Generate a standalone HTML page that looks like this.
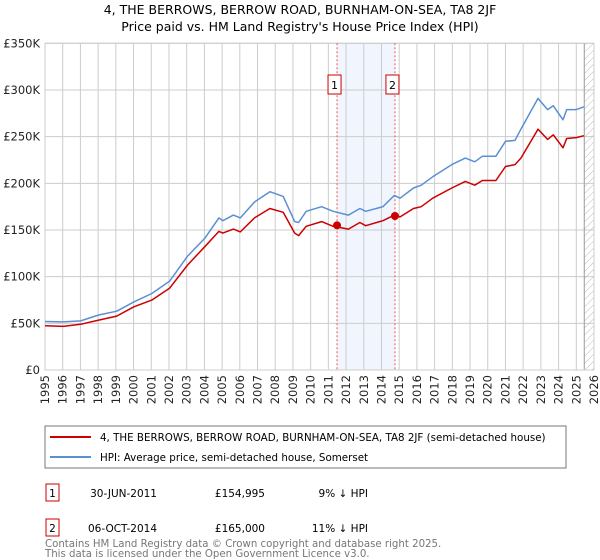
<!DOCTYPE html>
<html><head><meta charset="utf-8">
<style>
body{margin:0;background:#fff;font-family:"Liberation Sans","DejaVu Sans",sans-serif;}
svg{display:block}
</style></head>
<body>
<svg id="chart" width="600" height="560" viewBox="0 0 600 560" xmlns="http://www.w3.org/2000/svg" font-family="DejaVu Sans, Liberation Sans, sans-serif">
<text x="300" y="14" text-anchor="middle" font-size="12.5" fill="#000">4, THE BERROWS, BERROW ROAD, BURNHAM-ON-SEA, TA8 2JF</text>
<text x="300" y="31" text-anchor="middle" font-size="12.5" fill="#000">Price paid vs. HM Land Registry's House Price Index (HPI)</text>
<defs><pattern id="hatch" width="5" height="5" patternUnits="userSpaceOnUse" patternTransform="rotate(45)"><line x1="0" y1="0" x2="0" y2="5" stroke="#bbb" stroke-width="1"/></pattern></defs>
<g id="grid"></g>
<g id="marks"></g>
<g id="axes"></g>
<rect x="45" y="426" width="521" height="42" fill="#fff" stroke="#777"/>
<line x1="50" y1="437" x2="91" y2="437" stroke="#cc0000" stroke-width="2"/>
<text x="100" y="441" font-size="10.3">4, THE BERROWS, BERROW ROAD, BURNHAM-ON-SEA, TA8 2JF (semi-detached house)</text>
<line x1="50" y1="457" x2="91" y2="457" stroke="#5b8fd4" stroke-width="2"/>
<text x="100" y="461" font-size="10.3">HPI: Average price, semi-detached house, Somerset</text>
<g>
<rect x="46" y="484" width="13" height="17" fill="none" stroke="#cc0000"/><text x="52.5" y="497" text-anchor="middle" font-size="10.5">1</text>
<text x="157" y="497" text-anchor="end" font-size="10.5">30-JUN-2011</text>
<text x="265" y="497" text-anchor="end" font-size="10.5">£154,995</text>
<text x="368" y="497" text-anchor="end" font-size="10.5">9% ↓ HPI</text></g>
<g>
<rect x="46" y="519" width="13" height="17" fill="none" stroke="#cc0000"/><text x="52.5" y="532" text-anchor="middle" font-size="10.5">2</text>
<text x="157" y="532" text-anchor="end" font-size="10.5">06-OCT-2014</text>
<text x="265" y="532" text-anchor="end" font-size="10.5">£165,000</text>
<text x="368" y="532" text-anchor="end" font-size="10.5">11% ↓ HPI</text></g>
<text x="45" y="547" font-size="10.2" fill="#777">Contains HM Land Registry data © Crown copyright and database right 2025.</text>
<text x="45" y="557" font-size="10.2" fill="#777">This data is licensed under the Open Government Licence v3.0.</text>
</svg>
<script>
const hpiYears=[1995.0,1996.02,1997.01,1998.03,1999.05,2000.02,2001.03,2002.03,2003.05,2004.02,2004.82,2005.04,2005.64,2006.03,2006.83,2007.70,2008.45,2009.10,2009.32,2009.75,2010.62,2011.27,2012.13,2012.78,2013.11,2014.08,2014.73,2015.05,2015.81,2016.24,2016.89,2017.97,2018.73,2019.27,2019.70,2020.46,2021.00,2021.54,2021.87,2022.84,2023.38,2023.70,2024.25,2024.46,2025.00,2025.43];
const hpiValues=[52,51.5,52.6,58.9,63,73,82,95,122,141,163,160,166,163,180,191,186,159,158,170,175,170,166,173,170,175,187,184,195,198,207,220,227,223,229,229,245,246,258,291,279,283,268,279,279,282];
const priceValues=[47.5,46.7,49,53.5,57.7,67.7,74.9,87.5,112.5,132,148.5,146.7,151,148,163,173,169,146.7,144,153.9,159,154,151,158,154.6,160,166,164,173,175,184,195,202,198,203,203,218,220,227,258,247,252,238,248,249,251];
const saleYears=[2011.49,2014.76];
const saleValues=[155,165];
const saleLabels=["1","2"];
const yTicks=[0,50,100,150,200,250,300,350];
const yTickLabels=["£0","£50K","£100K","£150K","£200K","£250K","£300K","£350K"];
const xTicks=[1995,1996,1997,1998,1999,2000,2001,2002,2003,2004,2005,2006,2007,2008,2009,2010,2011,2012,2013,2014,2015,2016,2017,2018,2019,2020,2021,2022,2023,2024,2025,2026];

const NS="http://www.w3.org/2000/svg";
const X0=45,X1=594,Y0=370,Y1=43.3;
const xs=y=>X0+(y-1995)*(X1-X0)/31;
const ys=v=>Y0-v*(Y0-Y1)/350;
function mk(tag,attrs,parent){const e=document.createElementNS(NS,tag);for(const k in attrs)e.setAttribute(k,attrs[k]);parent.appendChild(e);return e;}
const grid=document.getElementById('grid'),marks=document.getElementById('marks'),axes=document.getElementById('axes');
const band=mk('rect',{x:xs(saleYears[0]),y:Y1,width:xs(saleYears[1])-xs(saleYears[0]),height:Y0-Y1,fill:'#eef3fc',opacity:0.8},grid);


xTicks.forEach(t=>{const l=mk('line',{x1:xs(t),x2:xs(t),y1:Y1,y2:Y0,stroke:'#cccccc','stroke-width':1},grid);


const px=xs(t)+4,py=Y0+5;
const tx=mk('text',{x:px,y:py,'text-anchor':'end','font-size':'11.5',fill:'#222',transform:'rotate(-90 '+px+' '+py+')'},axes);tx.textContent=String(t);

});
yTicks.forEach((t,i)=>{const l=mk('line',{x1:X0,x2:X1,y1:ys(t),y2:ys(t),stroke:'#cccccc','stroke-width':1},grid);


const tx=mk('text',{x:X0-5,y:ys(t)+4,'text-anchor':'end','font-size':'11.5',fill:'#222'},axes);tx.textContent=yTickLabels[i];

});
const h=mk('rect',{x:xs(2025.45),y:Y1,width:X1-xs(2025.45),height:Y0-Y1,fill:'url(#hatch)'},grid);


mk('line',{x1:xs(2025.45),x2:xs(2025.45),y1:Y1,y2:Y0,stroke:'#999','stroke-width':1},grid);
const frame=mk('rect',{x:X0,y:Y1,width:X1-X0,height:Y0-Y1,fill:'none',stroke:'#cccccc'},grid);


saleYears.forEach((sy,i)=>{const l=mk('line',{x1:xs(sy),x2:xs(sy),y1:Y1,y2:Y0,stroke:'#ee5555','stroke-width':1,'stroke-dasharray':'2,2'},marks);


const b=mk('rect',{x:xs(sy)-9,y:75,width:13,height:19,fill:'#fff',stroke:'#cc0000'},marks);


const t=mk('text',{x:xs(sy)-2.5,y:89,'text-anchor':'middle','font-size':'11'},marks);t.textContent=saleLabels[i];

});
function line(vals,color,name){const d=vals.map((v,i)=>(i?'L':'M')+xs(hpiYears[i]).toFixed(1)+','+ys(v).toFixed(1)).join('');
const p=mk('path',{d:d,fill:'none',stroke:color,'stroke-width':1.5,'stroke-linejoin':'round'},marks);

}
line(hpiValues,'#5b8fd4','hpi-line');
line(priceValues,'#cc0000','price-line');
saleYears.forEach((sy,i)=>{const c=mk('circle',{cx:xs(sy),cy:ys(saleValues[i]),r:4,fill:'#cc0000'},marks);

});
</script>
</body></html>
